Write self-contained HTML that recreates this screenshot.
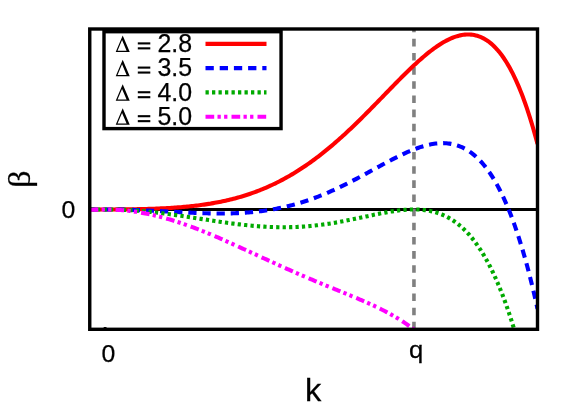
<!DOCTYPE html>
<html><head><meta charset="utf-8"><title>beta(k)</title><style>
html,body{margin:0;padding:0;background:#fff;}
svg{display:block;will-change:transform}
text{font-family:"Liberation Sans",sans-serif;fill:#000;stroke:#000;stroke-width:0.25px}
.sy{font-family:"Liberation Serif",serif}
</style></head><body>
<svg width="581" height="407" viewBox="0 0 581 407">
<rect width="581" height="407" fill="#fff"/>
<defs><clipPath id="c"><rect x="89.75" y="29.0" width="447.75" height="300.3"/></clipPath></defs>
<g clip-path="url(#c)" fill="none">
<line x1="89.75" x2="537.5" y1="209.45" y2="209.45" stroke="#000" stroke-width="3"/>
<line x1="413.95" x2="413.95" y1="24.65" y2="331" stroke="#808080" stroke-width="3.6" stroke-dasharray="7.6 6.55"/>
<path d="M89.75,209.39 L91.29,209.40 L92.84,209.41 L94.38,209.42 L95.93,209.43 L97.47,209.43 L99.01,209.44 L100.56,209.44 L102.10,209.45 L103.65,209.45 L105.19,209.45 L106.73,209.45 L108.28,209.45 L109.82,209.44 L111.37,209.44 L112.91,209.43 L114.45,209.43 L116.00,209.42 L117.54,209.41 L119.09,209.40 L120.63,209.39 L122.17,209.38 L123.72,209.36 L125.26,209.34 L126.81,209.33 L128.35,209.31 L129.89,209.29 L131.44,209.26 L132.98,209.24 L134.53,209.21 L136.07,209.19 L137.61,209.16 L139.16,209.12 L140.70,209.09 L142.24,209.05 L143.79,209.02 L145.33,208.98 L146.88,208.93 L148.42,208.89 L149.96,208.84 L151.51,208.79 L153.05,208.74 L154.60,208.68 L156.14,208.62 L157.68,208.56 L159.23,208.49 L160.77,208.42 L162.32,208.35 L163.86,208.28 L165.40,208.20 L166.95,208.11 L168.49,208.03 L170.04,207.93 L171.58,207.84 L173.12,207.74 L174.67,207.63 L176.21,207.52 L177.76,207.41 L179.30,207.29 L180.84,207.17 L182.39,207.04 L183.93,206.91 L185.48,206.77 L187.02,206.62 L188.56,206.47 L190.11,206.31 L191.65,206.15 L193.20,205.98 L194.74,205.80 L196.28,205.62 L197.83,205.43 L199.37,205.23 L200.92,205.03 L202.46,204.82 L204.00,204.60 L205.55,204.37 L207.09,204.14 L208.64,203.90 L210.18,203.65 L211.72,203.39 L213.27,203.12 L214.81,202.85 L216.36,202.56 L217.90,202.27 L219.44,201.97 L220.99,201.66 L222.53,201.33 L224.07,201.00 L225.62,200.66 L227.16,200.31 L228.71,199.95 L230.25,199.58 L231.79,199.20 L233.34,198.80 L234.88,198.40 L236.43,197.98 L237.97,197.56 L239.51,197.12 L241.06,196.67 L242.60,196.21 L244.15,195.73 L245.69,195.25 L247.23,194.75 L248.78,194.24 L250.32,193.72 L251.87,193.18 L253.41,192.63 L254.95,192.07 L256.50,191.50 L258.04,190.91 L259.59,190.31 L261.13,189.69 L262.67,189.07 L264.22,188.42 L265.76,187.77 L267.31,187.10 L268.85,186.41 L270.39,185.71 L271.94,185.00 L273.48,184.27 L275.03,183.53 L276.57,182.77 L278.11,182.00 L279.66,181.21 L281.20,180.41 L282.75,179.59 L284.29,178.76 L285.83,177.91 L287.38,177.05 L288.92,176.17 L290.47,175.28 L292.01,174.37 L293.55,173.44 L295.10,172.50 L296.64,171.55 L298.19,170.57 L299.73,169.59 L301.27,168.58 L302.82,167.57 L304.36,166.53 L305.91,165.48 L307.45,164.42 L308.99,163.34 L310.54,162.24 L312.08,161.13 L313.62,160.00 L315.17,158.86 L316.71,157.70 L318.26,156.53 L319.80,155.34 L321.34,154.14 L322.89,152.92 L324.43,151.69 L325.98,150.44 L327.52,149.18 L329.06,147.90 L330.61,146.61 L332.15,145.31 L333.70,143.99 L335.24,142.66 L336.78,141.31 L338.33,139.95 L339.87,138.58 L341.42,137.20 L342.96,135.80 L344.50,134.39 L346.05,132.97 L347.59,131.54 L349.14,130.10 L350.68,128.64 L352.22,127.17 L353.77,125.70 L355.31,124.21 L356.86,122.72 L358.40,121.21 L359.94,119.70 L361.49,118.17 L363.03,116.64 L364.58,115.10 L366.12,113.56 L367.66,112.01 L369.21,110.45 L370.75,108.88 L372.30,107.31 L373.84,105.74 L375.38,104.16 L376.93,102.58 L378.47,100.99 L380.02,99.40 L381.56,97.82 L383.10,96.22 L384.65,94.63 L386.19,93.04 L387.74,91.45 L389.28,89.87 L390.82,88.28 L392.37,86.70 L393.91,85.12 L395.46,83.54 L397.00,81.97 L398.54,80.41 L400.09,78.86 L401.63,77.31 L403.18,75.77 L404.72,74.24 L406.26,72.72 L407.81,71.22 L409.35,69.72 L410.89,68.24 L412.44,66.78 L413.98,65.33 L415.53,63.90 L417.07,62.48 L418.61,61.09 L420.16,59.71 L421.70,58.36 L423.25,57.03 L424.79,55.72 L426.33,54.43 L427.88,53.18 L429.42,51.95 L430.97,50.75 L432.51,49.58 L434.05,48.44 L435.60,47.33 L437.14,46.26 L438.69,45.23 L440.23,44.23 L441.77,43.27 L443.32,42.35 L444.86,41.47 L446.41,40.64 L447.95,39.85 L449.49,39.11 L451.04,38.42 L452.58,37.77 L454.13,37.18 L455.67,36.64 L457.21,36.16 L458.76,35.74 L460.30,35.37 L461.85,35.07 L463.39,34.82 L464.93,34.65 L466.48,34.54 L468.02,34.50 L469.57,34.53 L471.11,34.63 L472.65,34.81 L474.20,35.06 L475.74,35.40 L477.29,35.82 L478.83,36.32 L480.37,36.91 L481.92,37.58 L483.46,38.35 L485.01,39.21 L486.55,40.17 L488.09,41.22 L489.64,42.38 L491.18,43.64 L492.73,45.00 L494.27,46.48 L495.81,48.06 L497.36,49.77 L498.90,51.58 L500.44,53.52 L501.99,55.58 L503.53,57.76 L505.08,60.08 L506.62,62.52 L508.16,65.10 L509.71,67.82 L511.25,70.67 L512.80,73.67 L514.34,76.82 L515.88,80.12 L517.43,83.56 L518.97,87.17 L520.52,90.94 L522.06,94.87 L523.60,98.96 L525.15,103.23 L526.69,107.67 L528.24,112.29 L529.78,117.08 L531.32,122.07 L532.87,127.24 L534.41,132.60 L535.96,138.16 L537.50,143.92" stroke="#ff0000" stroke-width="4.1"/>
<path d="M89.75,209.60 L91.29,209.57 L92.84,209.55 L94.38,209.52 L95.93,209.50 L97.47,209.49 L99.01,209.47 L100.56,209.46 L102.10,209.46 L103.65,209.45 L105.19,209.45 L106.73,209.45 L108.28,209.46 L109.82,209.46 L111.37,209.47 L112.91,209.49 L114.45,209.50 L116.00,209.52 L117.54,209.55 L119.09,209.57 L120.63,209.60 L122.17,209.63 L123.72,209.66 L125.26,209.70 L126.81,209.74 L128.35,209.78 L129.89,209.82 L131.44,209.87 L132.98,209.92 L134.53,209.97 L136.07,210.03 L137.61,210.08 L139.16,210.14 L140.70,210.20 L142.24,210.27 L143.79,210.33 L145.33,210.40 L146.88,210.47 L148.42,210.54 L149.96,210.61 L151.51,210.68 L153.05,210.76 L154.60,210.83 L156.14,210.91 L157.68,210.99 L159.23,211.07 L160.77,211.15 L162.32,211.23 L163.86,211.31 L165.40,211.39 L166.95,211.48 L168.49,211.56 L170.04,211.64 L171.58,211.72 L173.12,211.81 L174.67,211.89 L176.21,211.97 L177.76,212.05 L179.30,212.13 L180.84,212.22 L182.39,212.29 L183.93,212.37 L185.48,212.45 L187.02,212.52 L188.56,212.60 L190.11,212.67 L191.65,212.74 L193.20,212.81 L194.74,212.87 L196.28,212.94 L197.83,213.00 L199.37,213.05 L200.92,213.11 L202.46,213.16 L204.00,213.21 L205.55,213.25 L207.09,213.30 L208.64,213.33 L210.18,213.37 L211.72,213.40 L213.27,213.42 L214.81,213.44 L216.36,213.46 L217.90,213.47 L219.44,213.48 L220.99,213.48 L222.53,213.47 L224.07,213.46 L225.62,213.45 L227.16,213.43 L228.71,213.40 L230.25,213.37 L231.79,213.33 L233.34,213.28 L234.88,213.23 L236.43,213.17 L237.97,213.10 L239.51,213.03 L241.06,212.94 L242.60,212.85 L244.15,212.76 L245.69,212.65 L247.23,212.54 L248.78,212.42 L250.32,212.29 L251.87,212.15 L253.41,212.00 L254.95,211.85 L256.50,211.68 L258.04,211.51 L259.59,211.33 L261.13,211.13 L262.67,210.93 L264.22,210.72 L265.76,210.50 L267.31,210.27 L268.85,210.03 L270.39,209.78 L271.94,209.51 L273.48,209.24 L275.03,208.96 L276.57,208.67 L278.11,208.36 L279.66,208.05 L281.20,207.72 L282.75,207.39 L284.29,207.04 L285.83,206.68 L287.38,206.31 L288.92,205.93 L290.47,205.54 L292.01,205.14 L293.55,204.72 L295.10,204.30 L296.64,203.86 L298.19,203.41 L299.73,202.95 L301.27,202.48 L302.82,202.00 L304.36,201.51 L305.91,201.00 L307.45,200.49 L308.99,199.96 L310.54,199.42 L312.08,198.87 L313.62,198.31 L315.17,197.73 L316.71,197.15 L318.26,196.55 L319.80,195.95 L321.34,195.33 L322.89,194.70 L324.43,194.07 L325.98,193.42 L327.52,192.76 L329.06,192.09 L330.61,191.41 L332.15,190.72 L333.70,190.03 L335.24,189.32 L336.78,188.60 L338.33,187.88 L339.87,187.14 L341.42,186.40 L342.96,185.65 L344.50,184.89 L346.05,184.12 L347.59,183.35 L349.14,182.56 L350.68,181.78 L352.22,180.98 L353.77,180.18 L355.31,179.37 L356.86,178.56 L358.40,177.74 L359.94,176.92 L361.49,176.09 L363.03,175.26 L364.58,174.42 L366.12,173.59 L367.66,172.75 L369.21,171.90 L370.75,171.06 L372.30,170.22 L373.84,169.37 L375.38,168.53 L376.93,167.68 L378.47,166.84 L380.02,166.00 L381.56,165.16 L383.10,164.32 L384.65,163.49 L386.19,162.66 L387.74,161.84 L389.28,161.02 L390.82,160.21 L392.37,159.41 L393.91,158.61 L395.46,157.83 L397.00,157.05 L398.54,156.29 L400.09,155.53 L401.63,154.79 L403.18,154.06 L404.72,153.34 L406.26,152.64 L407.81,151.96 L409.35,151.29 L410.89,150.64 L412.44,150.01 L413.98,149.40 L415.53,148.81 L417.07,148.24 L418.61,147.70 L420.16,147.18 L421.70,146.68 L423.25,146.22 L424.79,145.78 L426.33,145.36 L427.88,144.98 L429.42,144.64 L430.97,144.32 L432.51,144.04 L434.05,143.79 L435.60,143.59 L437.14,143.42 L438.69,143.29 L440.23,143.20 L441.77,143.15 L443.32,143.15 L444.86,143.20 L446.41,143.29 L447.95,143.43 L449.49,143.63 L451.04,143.87 L452.58,144.17 L454.13,144.53 L455.67,144.94 L457.21,145.42 L458.76,145.95 L460.30,146.55 L461.85,147.22 L463.39,147.95 L464.93,148.75 L466.48,149.62 L468.02,150.57 L469.57,151.59 L471.11,152.68 L472.65,153.86 L474.20,155.12 L475.74,156.46 L477.29,157.89 L478.83,159.40 L480.37,161.01 L481.92,162.71 L483.46,164.51 L485.01,166.40 L486.55,168.39 L488.09,170.49 L489.64,172.69 L491.18,175.00 L492.73,177.42 L494.27,179.95 L495.81,182.60 L497.36,185.36 L498.90,188.25 L500.44,191.26 L501.99,194.40 L503.53,197.66 L505.08,201.06 L506.62,204.60 L508.16,208.27 L509.71,212.09 L511.25,216.05 L512.80,220.16 L514.34,224.41 L515.88,228.83 L517.43,233.40 L518.97,238.13 L520.52,243.02 L522.06,248.08 L523.60,253.32 L525.15,258.72 L526.69,264.31 L528.24,270.08 L529.78,276.03 L531.32,282.17 L532.87,288.50 L534.41,295.03 L535.96,301.76 L537.50,308.69" stroke="#0000ff" stroke-width="4.1" stroke-dasharray="8.27 5.88" stroke-dashoffset="0.45"/>
<path d="M89.75,209.75 L91.29,209.69 L92.84,209.64 L94.38,209.60 L95.93,209.56 L97.47,209.52 L99.01,209.50 L100.56,209.48 L102.10,209.46 L103.65,209.45 L105.19,209.45 L106.73,209.45 L108.28,209.46 L109.82,209.48 L111.37,209.50 L112.91,209.52 L114.45,209.56 L116.00,209.60 L117.54,209.64 L119.09,209.69 L120.63,209.75 L122.17,209.81 L123.72,209.88 L125.26,209.95 L126.81,210.03 L128.35,210.12 L129.89,210.21 L131.44,210.31 L132.98,210.41 L134.53,210.51 L136.07,210.63 L137.61,210.75 L139.16,210.87 L140.70,211.00 L142.24,211.13 L143.79,211.27 L145.33,211.41 L146.88,211.56 L148.42,211.71 L149.96,211.87 L151.51,212.03 L153.05,212.20 L154.60,212.37 L156.14,212.54 L157.68,212.72 L159.23,212.91 L160.77,213.09 L162.32,213.28 L163.86,213.48 L165.40,213.68 L166.95,213.88 L168.49,214.08 L170.04,214.29 L171.58,214.50 L173.12,214.71 L174.67,214.93 L176.21,215.15 L177.76,215.37 L179.30,215.59 L180.84,215.82 L182.39,216.05 L183.93,216.28 L185.48,216.51 L187.02,216.74 L188.56,216.98 L190.11,217.21 L191.65,217.45 L193.20,217.68 L194.74,217.92 L196.28,218.16 L197.83,218.40 L199.37,218.64 L200.92,218.88 L202.46,219.12 L204.00,219.36 L205.55,219.60 L207.09,219.84 L208.64,220.07 L210.18,220.31 L211.72,220.54 L213.27,220.78 L214.81,221.01 L216.36,221.24 L217.90,221.47 L219.44,221.70 L220.99,221.92 L222.53,222.15 L224.07,222.37 L225.62,222.58 L227.16,222.80 L228.71,223.01 L230.25,223.22 L231.79,223.42 L233.34,223.62 L234.88,223.82 L236.43,224.01 L237.97,224.20 L239.51,224.39 L241.06,224.57 L242.60,224.75 L244.15,224.92 L245.69,225.08 L247.23,225.25 L248.78,225.40 L250.32,225.55 L251.87,225.70 L253.41,225.84 L254.95,225.97 L256.50,226.10 L258.04,226.22 L259.59,226.34 L261.13,226.45 L262.67,226.55 L264.22,226.65 L265.76,226.74 L267.31,226.82 L268.85,226.90 L270.39,226.96 L271.94,227.02 L273.48,227.08 L275.03,227.12 L276.57,227.16 L278.11,227.19 L279.66,227.22 L281.20,227.23 L282.75,227.24 L284.29,227.24 L285.83,227.23 L287.38,227.22 L288.92,227.19 L290.47,227.16 L292.01,227.12 L293.55,227.07 L295.10,227.01 L296.64,226.95 L298.19,226.87 L299.73,226.79 L301.27,226.70 L302.82,226.60 L304.36,226.49 L305.91,226.37 L307.45,226.25 L308.99,226.11 L310.54,225.97 L312.08,225.82 L313.62,225.67 L315.17,225.50 L316.71,225.33 L318.26,225.14 L319.80,224.95 L321.34,224.76 L322.89,224.55 L324.43,224.34 L325.98,224.12 L327.52,223.89 L329.06,223.66 L330.61,223.41 L332.15,223.17 L333.70,222.91 L335.24,222.65 L336.78,222.38 L338.33,222.11 L339.87,221.83 L341.42,221.54 L342.96,221.25 L344.50,220.96 L346.05,220.66 L347.59,220.35 L349.14,220.04 L350.68,219.73 L352.22,219.41 L353.77,219.09 L355.31,218.77 L356.86,218.44 L358.40,218.12 L359.94,217.79 L361.49,217.46 L363.03,217.13 L364.58,216.79 L366.12,216.46 L367.66,216.13 L369.21,215.80 L370.75,215.47 L372.30,215.15 L373.84,214.82 L375.38,214.50 L376.93,214.18 L378.47,213.87 L380.02,213.56 L381.56,213.26 L383.10,212.96 L384.65,212.67 L386.19,212.39 L387.74,212.11 L389.28,211.85 L390.82,211.59 L392.37,211.35 L393.91,211.11 L395.46,210.89 L397.00,210.68 L398.54,210.48 L400.09,210.30 L401.63,210.13 L403.18,209.98 L404.72,209.84 L406.26,209.73 L407.81,209.63 L409.35,209.55 L410.89,209.50 L412.44,209.46 L413.98,209.45 L415.53,209.46 L417.07,209.50 L418.61,209.56 L420.16,209.65 L421.70,209.77 L423.25,209.92 L424.79,210.10 L426.33,210.31 L427.88,210.56 L429.42,210.84 L430.97,211.16 L432.51,211.51 L434.05,211.90 L435.60,212.34 L437.14,212.81 L438.69,213.33 L440.23,213.89 L441.77,214.50 L443.32,215.15 L444.86,215.86 L446.41,216.61 L447.95,217.42 L449.49,218.28 L451.04,219.20 L452.58,220.17 L454.13,221.21 L455.67,222.30 L457.21,223.46 L458.76,224.68 L460.30,225.97 L461.85,227.33 L463.39,228.75 L464.93,230.25 L466.48,231.82 L468.02,233.47 L469.57,235.20 L471.11,237.01 L472.65,238.90 L474.20,240.87 L475.74,242.93 L477.29,245.08 L478.83,247.32 L480.37,249.66 L481.92,252.09 L483.46,254.62 L485.01,257.25 L486.55,259.98 L488.09,262.82 L489.64,265.77 L491.18,268.83 L492.73,272.00 L494.27,275.28 L495.81,278.69 L497.36,282.22 L498.90,285.87 L500.44,289.65 L501.99,293.55 L503.53,297.59 L505.08,301.77 L506.62,306.08 L508.16,310.54 L509.71,315.14 L511.25,319.89 L512.80,324.79 L514.34,329.84 L515.88,335.05 L517.43,340.42 L518.97,345.95 L520.52,351.65 L522.06,357.53 L523.60,363.57 L525.15,369.79 L526.69,376.20 L528.24,382.78 L529.78,389.56 L531.32,396.53 L532.87,403.69" stroke="#00aa00" stroke-width="4.1" stroke-dasharray="3.25 3.185" stroke-dashoffset="-0.9"/>
<path d="M89.75,210.05 L91.29,209.94 L92.84,209.83 L94.38,209.74 L95.93,209.67 L97.47,209.60 L99.01,209.55 L100.56,209.50 L102.10,209.47 L103.65,209.46 L105.19,209.45 L106.73,209.46 L108.28,209.47 L109.82,209.50 L111.37,209.55 L112.91,209.60 L114.45,209.67 L116.00,209.74 L117.54,209.83 L119.09,209.94 L120.63,210.05 L122.17,210.17 L123.72,210.31 L125.26,210.46 L126.81,210.62 L128.35,210.79 L129.89,210.98 L131.44,211.17 L132.98,211.38 L134.53,211.60 L136.07,211.83 L137.61,212.07 L139.16,212.32 L140.70,212.58 L142.24,212.86 L143.79,213.14 L145.33,213.44 L146.88,213.75 L148.42,214.07 L149.96,214.40 L151.51,214.73 L153.05,215.08 L154.60,215.44 L156.14,215.81 L157.68,216.19 L159.23,216.58 L160.77,216.98 L162.32,217.39 L163.86,217.81 L165.40,218.24 L166.95,218.68 L168.49,219.13 L170.04,219.59 L171.58,220.05 L173.12,220.53 L174.67,221.01 L176.21,221.50 L177.76,222.00 L179.30,222.51 L180.84,223.03 L182.39,223.55 L183.93,224.09 L185.48,224.63 L187.02,225.18 L188.56,225.73 L190.11,226.29 L191.65,226.86 L193.20,227.44 L194.74,228.02 L196.28,228.61 L197.83,229.21 L199.37,229.81 L200.92,230.42 L202.46,231.04 L204.00,231.66 L205.55,232.28 L207.09,232.91 L208.64,233.55 L210.18,234.19 L211.72,234.84 L213.27,235.49 L214.81,236.15 L216.36,236.81 L217.90,237.47 L219.44,238.14 L220.99,238.81 L222.53,239.49 L224.07,240.17 L225.62,240.85 L227.16,241.54 L228.71,242.22 L230.25,242.92 L231.79,243.61 L233.34,244.31 L234.88,245.01 L236.43,245.71 L237.97,246.41 L239.51,247.11 L241.06,247.82 L242.60,248.53 L244.15,249.24 L245.69,249.95 L247.23,250.66 L248.78,251.37 L250.32,252.08 L251.87,252.80 L253.41,253.51 L254.95,254.22 L256.50,254.94 L258.04,255.65 L259.59,256.36 L261.13,257.08 L262.67,257.79 L264.22,258.50 L265.76,259.21 L267.31,259.92 L268.85,260.63 L270.39,261.34 L271.94,262.05 L273.48,262.75 L275.03,263.46 L276.57,264.16 L278.11,264.86 L279.66,265.56 L281.20,266.25 L282.75,266.95 L284.29,267.64 L285.83,268.33 L287.38,269.02 L288.92,269.71 L290.47,270.40 L292.01,271.08 L293.55,271.76 L295.10,272.44 L296.64,273.11 L298.19,273.79 L299.73,274.46 L301.27,275.12 L302.82,275.79 L304.36,276.45 L305.91,277.12 L307.45,277.77 L308.99,278.43 L310.54,279.08 L312.08,279.74 L313.62,280.39 L315.17,281.03 L316.71,281.68 L318.26,282.32 L319.80,282.97 L321.34,283.61 L322.89,284.24 L324.43,284.88 L325.98,285.52 L327.52,286.15 L329.06,286.78 L330.61,287.42 L332.15,288.05 L333.70,288.68 L335.24,289.31 L336.78,289.94 L338.33,290.57 L339.87,291.20 L341.42,291.83 L342.96,292.46 L344.50,293.09 L346.05,293.72 L347.59,294.36 L349.14,295.00 L350.68,295.63 L352.22,296.28 L353.77,296.92 L355.31,297.57 L356.86,298.22 L358.40,298.87 L359.94,299.53 L361.49,300.19 L363.03,300.86 L364.58,301.54 L366.12,302.22 L367.66,302.90 L369.21,303.60 L370.75,304.30 L372.30,305.01 L373.84,305.73 L375.38,306.45 L376.93,307.19 L378.47,307.94 L380.02,308.69 L381.56,309.46 L383.10,310.24 L384.65,311.04 L386.19,311.84 L387.74,312.66 L389.28,313.50 L390.82,314.35 L392.37,315.22 L393.91,316.11 L395.46,317.01 L397.00,317.93 L398.54,318.87 L400.09,319.83 L401.63,320.81 L403.18,321.82 L404.72,322.85 L406.26,323.90 L407.81,324.97 L409.35,326.08 L410.89,327.21 L412.44,328.36 L413.98,329.55 L415.53,330.77 L417.07,332.01 L418.61,333.29 L420.16,334.61 L421.70,335.95 L423.25,337.34 L424.79,338.76 L426.33,340.22 L427.88,341.71 L429.42,343.25 L430.97,344.83 L432.51,346.46 L434.05,348.12 L435.60,349.84 L437.14,351.60 L438.69,353.41 L440.23,355.28 L441.77,357.19 L443.32,359.16 L444.86,361.18 L446.41,363.26 L447.95,365.40 L449.49,367.59 L451.04,369.85 L452.58,372.18 L454.13,374.56 L455.67,377.02 L457.21,379.54 L458.76,382.14 L460.30,384.80 L461.85,387.54 L463.39,390.36 L464.93,393.25 L466.48,396.23 L468.02,399.29 L469.57,402.43" stroke="#ff00ff" stroke-width="4.1" stroke-dasharray="8.62 3.27 3.27 3.27 3.27 4.07"/>
</g>
<!-- legend -->
<rect x="104.0" y="31.7" width="177.05" height="96.9" fill="#fff" stroke="#000" stroke-width="3.4"/>
<g fill="none" stroke-width="4.1">
<line x1="205.5" x2="266.5" y1="43.9" y2="43.9" stroke="#ff0000"/>
<line x1="205.5" x2="266.5" y1="68.1" y2="68.1" stroke="#0000ff" stroke-dasharray="8.3 5.9"/>
<line x1="205.5" x2="266.5" y1="92.4" y2="92.4" stroke="#00aa00" stroke-dasharray="3.3 3.2"/>
<line x1="205.5" x2="266.5" y1="116.7" y2="116.7" stroke="#ff00ff" stroke-dasharray="8.7 3.3 3.3 3.3 3.3 4.1"/>
</g>
<g font-size="24.9">
<path fill-rule="evenodd" d="M115.7,52.00 L122.7,35.50 L129.75,52.00 Z M117.55,50.70 L122.05,40.08 L126.59,50.70 Z"/>
<text x="157.45" y="51.8">2.8</text>
<rect x="137.8" y="42.35" width="12.5" height="2.1"/><rect x="137.8" y="47.30" width="12.5" height="2.1"/>
<path fill-rule="evenodd" d="M115.7,76.20 L122.7,59.70 L129.75,76.20 Z M117.55,74.90 L122.05,64.28 L126.59,74.90 Z"/>
<text x="157.45" y="76.0">3.5</text>
<rect x="137.8" y="66.55" width="12.5" height="2.1"/><rect x="137.8" y="71.50" width="12.5" height="2.1"/>
<path fill-rule="evenodd" d="M115.7,100.85 L122.7,84.35 L129.75,100.85 Z M117.55,99.55 L122.05,88.93 L126.59,99.55 Z"/>
<text x="157.45" y="100.65">4.0</text>
<rect x="137.8" y="91.20" width="12.5" height="2.1"/><rect x="137.8" y="96.15" width="12.5" height="2.1"/>
<path fill-rule="evenodd" d="M115.7,124.80 L122.7,108.30 L129.75,124.80 Z M117.55,123.50 L122.05,112.88 L126.59,123.50 Z"/>
<text x="157.45" y="124.6">5.0</text>
<rect x="137.8" y="115.15" width="12.5" height="2.1"/><rect x="137.8" y="120.10" width="12.5" height="2.1"/>
</g>
<!-- frame -->
<rect x="89.75" y="29.0" width="447.75" height="300.3" fill="none" stroke="#000" stroke-width="3.4"/>
<rect x="103.7" y="327" width="2.8" height="1.5" fill="#000"/>
<!-- labels -->
<text x="108.3" y="362.4" font-size="24.8" text-anchor="middle">0</text>
<text transform="translate(409.1,357.7) scale(1.05,1)" font-size="24.4">q</text>
<text x="68.4" y="217.7" font-size="24.8" text-anchor="middle">0</text>
<text transform="translate(304.9,400.9) scale(1.02,1)" font-size="32">k</text>
<text class="sy" font-size="32" text-anchor="middle" stroke="#000" stroke-width="0.35" transform="translate(30,179.2) rotate(-90) scale(1.08,1.01)">β</text>
</svg>
</body></html>
